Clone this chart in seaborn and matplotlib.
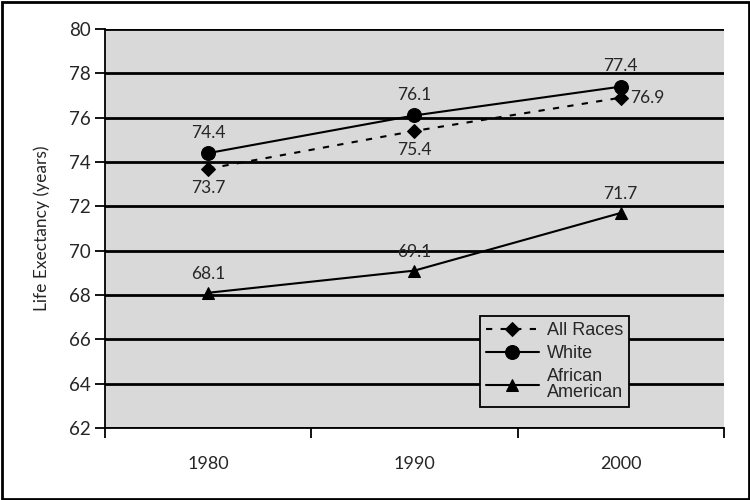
import pandas as pd
import matplotlib.pyplot as plt
import seaborn as sns
from matplotlib.patches import Rectangle

# data
years = ['1980', '1990', '2000']
all_races = [73.7, 75.4, 76.9]
white = [74.4, 76.1, 77.4]
african_american = [68.1, 69.1, 71.7]

df = pd.DataFrame({
    'pos': list(range(len(years))) * 3,
    'value': all_races + white + african_american,
    'group': ['All Races'] * 3 + ['White'] * 3 + ['African\nAmerican'] * 3,
})

sns.set_theme(style='white')
plt.rcParams['font.family'] = ['Lato', 'DejaVu Sans']

fig = plt.figure(figsize=(7.5, 5), dpi=100)
ax = fig.add_axes([0.14, 0.144, 0.825, 0.798])
ax.set_facecolor('#d9d9d9')

styles = {
    'All Races': dict(ls=(0, (3, 4)), marker='D', ms=7),
    'White': dict(ls='-', marker='o', ms=10),
    'African\nAmerican': dict(ls='-', marker='^', ms=9),
}
for name, st in styles.items():
    sub = df[df['group'] == name]
    sns.lineplot(data=sub, x='pos', y='value', ax=ax, color='black',
                 linestyle=st['ls'], marker=st['marker'], markersize=st['ms'],
                 markeredgecolor='black', linewidth=1.5, label=name)

# point labels
fs = 12.5
for i, v in enumerate(white):
    ax.annotate(f'{v}', (i, v), xytext=(0, 9), textcoords='offset points',
                ha='center', va='bottom', fontsize=fs)
for i, v in enumerate(all_races):
    if i < 2:
        ax.annotate(f'{v}', (i, v), xytext=(0, -8), textcoords='offset points',
                    ha='center', va='top', fontsize=fs)
    else:
        ax.annotate(f'{v}', (i, v), xytext=(7, 0), textcoords='offset points',
                    ha='left', va='center', fontsize=fs)
for i, v in enumerate(african_american):
    ax.annotate(f'{v}', (i, v), xytext=(0, 8), textcoords='offset points',
                ha='center', va='bottom', fontsize=fs)

ax.set_ylim(62, 80)
ax.set_yticks(range(62, 81, 2))
ax.set_xlim(-0.5, 2.5)
ax.set_xticks([-0.5, 0.5, 1.5, 2.5])
ax.set_xticklabels([])
ax.set_xticks(range(len(years)), minor=True)
ax.set_xticklabels(years, minor=True)
ax.tick_params(axis='x', which='major', length=7, width=1.3, color='black', direction='out')
ax.tick_params(axis='x', which='minor', length=0, pad=20, labelsize=13)
ax.tick_params(axis='y', length=7, width=1.3, color='black', direction='out', labelsize=13.5, pad=3)
ax.tick_params(left=True, bottom=True)
ax.yaxis.grid(True, color='black', linewidth=2)
ax.set_axisbelow(True)
ax.set_xlabel('')
ax.set_ylabel('Life Exectancy (years)', fontsize=12.5, labelpad=14)

for side in ['top', 'right']:
    ax.spines[side].set_visible(False)
for side in ['left', 'bottom']:
    ax.spines[side].set_color('black')
    ax.spines[side].set_linewidth(1.3)

leg = ax.legend(loc='lower left', bbox_to_anchor=(0.606, 0.053), borderaxespad=0,
                frameon=True, fancybox=False, edgecolor='black', facecolor='#d9d9d9',
                prop={'family': 'Liberation Sans', 'size': 13},
                handlelength=2.9, labelspacing=0.35, borderpad=0.35,
                handletextpad=0.45)
leg.get_frame().set_linewidth(1.3)
leg.get_frame().set_alpha(1)
for t in leg.get_texts():
    t.set_linespacing(0.85)

fig.patches.append(Rectangle((0.002, 0.003), 0.996, 0.994, transform=fig.transFigure,
                             fill=False, edgecolor='black', linewidth=2))

fig.savefig('out.png', dpi=100)
